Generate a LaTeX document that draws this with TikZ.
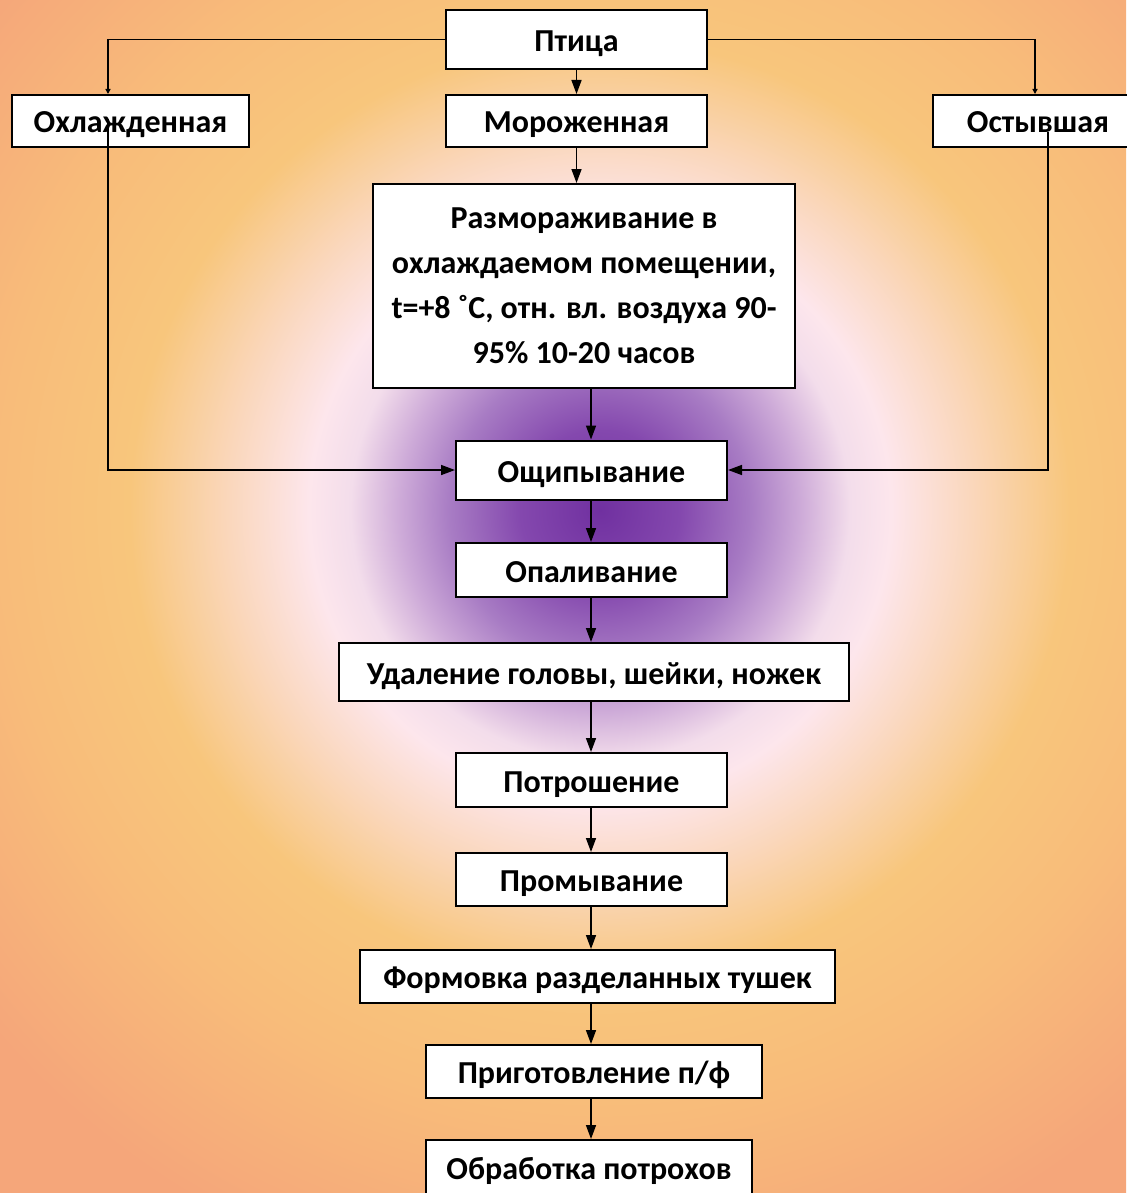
\documentclass[tikz,border=0pt]{standalone}
\usepackage{fontspec}
\setmainfont{Carlito}
\usetikzlibrary{arrows.meta, positioning}

\definecolor{glowA}{HTML}{7030A0}
\definecolor{glowB}{HTML}{8448AE}
\definecolor{glowC}{HTML}{A87CC4}
\definecolor{glowD}{HTML}{CDAAD8}
\definecolor{glowE}{HTML}{F3DDEB}
\definecolor{glowF}{HTML}{FDE6EC}
\definecolor{glowG}{HTML}{FAD7BC}
\definecolor{glowH}{HTML}{F8C67C}
\definecolor{glowI}{HTML}{F8BC7A}
\definecolor{glowJ}{HTML}{F5A67A}
\pgfdeclareradialshading{glow}{\pgfpoint{0bp}{0bp}}{%
  color(0bp)=(glowA); color(2.5bp)=(glowB); color(4.7bp)=(glowC);
  color(6.25bp)=(glowD); color(7.8bp)=(glowE); color(9.1bp)=(glowF);
  color(11.6bp)=(glowG); color(14.7bp)=(glowH); color(18.8bp)=(glowI);
  color(25bp)=(glowJ); color(40bp)=(glowJ)}

\begin{document}
\begin{tikzpicture}[x=0.5pt, y=-0.5pt, font=\bfseries\fontsize{16}{22.5}\selectfont]
        % Setup the styles for the boxes and the arrows
        \tikzset{box style/.style={draw=black,
                                   line width=1pt,
                                   fill=white,
                                   inner sep=0pt,
                                   align=center},
                 step box/.style={box style,
                                  text height=13pt,
                                  text depth=1pt},
                 line style/.style={line width=0.75pt,
                                    -{Triangle[length=7pt, width=5pt]}},
                 tiny tip/.style={line width=0.75pt,
                                  -{Triangle[length=2.5pt, width=2.5pt]}}}

        \useasboundingbox (0,0) rectangle (1126,1193);

        % Draw the background glow
        \begin{scope}
            \clip (0,0) rectangle (1126,1193);
            \shade[shading=glow] (-200,-290) rectangle (1400,1310);
        \end{scope}

        % Draw the boxes
        \node[step box, minimum width=130.5pt, minimum height=29.5pt] at (576.5, 39.5) (bird)     {Птица};
        \node[step box, minimum width=118.5pt, minimum height=26pt]   at (130.5, 121)  (chilled)  {Охлажденная};
        \node[step box, minimum width=130.5pt, minimum height=26pt]   at (576.5, 121)  (frozen)   {Мороженная};
        \node[step box, minimum width=105pt,   minimum height=26pt]   at (1038, 121)   (cooled)   {Остывшая};
        \node[box style, minimum width=211pt,  minimum height=102pt]  at (584, 286)    (thawing)
            {Размораживание в\\охлаждаемом помещении,\\t=+8 ˚C, отн. вл. воздуха 90-\\95\% 10-20 часов};
        \node[step box, minimum width=135.5pt, minimum height=29.5pt] at (591.5, 470)  (plucking) {Ощипывание};
        \node[step box, minimum width=135.5pt, minimum height=27pt]   at (591.5, 570)  (singeing) {Опаливание};
        \node[step box, minimum width=255pt,   minimum height=29pt]   at (594, 672)    (cutting)  {Удаление головы, шейки, ножек};
        \node[step box, minimum width=135.5pt, minimum height=27pt]   at (591.5, 780)  (gutting)  {Потрошение};
        \node[step box, minimum width=135.5pt, minimum height=26.5pt] at (591.5, 879.5) (washing) {Промывание};
        \node[step box, minimum width=237.5pt, minimum height=26.5pt] at (597.5, 976.5) (shaping) {Формовка разделанных тушек};
        \node[step box, minimum width=168pt,   minimum height=26.5pt] at (594, 1071.5) (semis)   {Приготовление п/ф};
        \node[step box, minimum width=163pt,   minimum height=27pt]   at (589, 1167)   (offal)    {Обработка потрохов};

        % Points the side lines run through
        \coordinate (spine)      at (591, 0);
        \coordinate (left drop)  at (108, 119);
        \coordinate (right top)  at (1035, 0);
        \coordinate (right drop) at (1048, 132);

        % Connect the boxes with arrows
        \draw[tiny tip] (bird.west) -| (chilled.north -| left drop);
        \draw[tiny tip] (bird.east) -| (cooled.north -| right top);
        \draw[line style] (left drop) |- (plucking.west);
        \draw[line style] (right drop) |- (plucking.east);
        \path[every edge/.append style={line style}]
            (bird)                   edge (frozen)
            (frozen.south)           edge (frozen.south |- thawing.north)
            (thawing.south -| spine)  edge (plucking.north -| spine)
            (plucking.south -| spine) edge (singeing.north -| spine)
            (singeing.south -| spine) edge (cutting.north -| spine)
            (cutting.south -| spine)  edge (gutting.north -| spine)
            (gutting.south -| spine)  edge (washing.north -| spine)
            (washing.south -| spine)  edge (shaping.north -| spine)
            (shaping.south -| spine)  edge (semis.north -| spine)
            (semis.south -| spine)    edge (offal.north -| spine);
\end{tikzpicture}
\end{document}
